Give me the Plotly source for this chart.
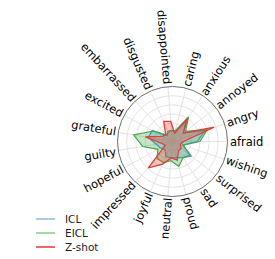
import math
import plotly.graph_objects as go

categories = ["afraid", "angry", "annoyed", "anxious", "caring", "disappointed",
              "disgusted", "embarrassed", "excited", "grateful", "guilty", "hopeful",
              "impressed", "joyful", "neutral", "proud", "sad", "surprised", "wishing"]

icl = [0.27, 0.38, 0.15, 0.27, 0.12, 0.12, 0.12, 0.09, 0.25, 0.27, 0.18, 0.15,
       0.12, 0.18, 0.18, 0.18, 0.21, 0.26, 0.12]
eicl = [0.30, 0.40, 0.18, 0.32, 0.12, 0.12, 0.12, 0.09, 0.24, 0.43, 0.33, 0.18,
        0.25, 0.25, 0.21, 0.28, 0.21, 0.24, 0.12]
zshot = [0.12, 0.48, 0.15, 0.30, 0.09, 0.22, 0.24, 0.11, 0.12, 0.30, 0.12, 0.09,
         0.39, 0.27, 0.18, 0.21, 0.12, 0.12, 0.09]

series_names = ["ICL", "EICL", "Z-shot"]
series_values = [icl, eicl, zshot]
line_colors = ["#4a8fd4", "#43a847", "#e53935"]
fill_colors = ["rgba(74,143,212,0.30)", "rgba(67,168,71,0.30)", "rgba(229,57,53,0.30)"]
legend_colors = ["#92bbe3", "#86cc86", "#e53935"]

W, H = 275, 259
cx, cy, R = 164.5, 133.5, 55
n = len(categories)
rot = 0  # first category points right, counter-clockwise

fig = go.Figure()
for name, vals, col, fcol in zip(series_names, series_values, line_colors, fill_colors):
    fig.add_trace(go.Scatterpolar(
        r=vals + vals[:1], theta=categories + categories[:1],
        mode="lines", fill="toself", fillcolor=fcol,
        line=dict(color=col, width=1.2), showlegend=False, name=name))

# DejaVu Sans advance widths (em) to place rotated labels just outside the circle
cw = dict(a=.613, b=.635, c=.550, d=.635, e=.615, f=.352, g=.635, h=.634, i=.278,
          j=.278, k=.579, l=.278, m=.974, n=.634, o=.612, p=.635, q=.635, r=.411,
          s=.521, t=.392, u=.634, v=.592, w=.818, x=.592, y=.592, z=.525)
fs = 11.5
ann = []
for i, lab in enumerate(categories):
    th = rot + i * 360 / n
    t = math.radians(th)
    L = sum(cw.get(ch, 0.6) for ch in lab) * fs
    rc = R + 2 + L / 2
    px = cx + rc * math.cos(t)
    py = cy - rc * math.sin(t)
    thn = th % 360
    ang = 180 - thn if 90 < thn < 270 else -thn
    ann.append(dict(x=px / W, y=1 - py / H, xref="paper", yref="paper",
                    text=lab, showarrow=False, textangle=ang,
                    xanchor="center", yanchor="middle", borderpad=0,
                    font=dict(size=fs, color="black", family="DejaVu Sans")))

# legend drawn as short line samples with text
shapes = []
leg_y = [211, 225, 239]
for name, col, yy in zip(series_names, legend_colors, leg_y):
    shapes.append(dict(type="line", xref="paper", yref="paper",
                       x0=28 / W, x1=47 / W, y0=1 - yy / H, y1=1 - yy / H,
                       line=dict(color=col, width=1.5)))
    ann.append(dict(x=55 / W, y=1 - yy / H, xref="paper", yref="paper", text=name,
                    showarrow=False, xanchor="left", yanchor="middle",
                    font=dict(size=10.5, color="#222222", family="DejaVu Sans")))

fig.update_layout(
    width=W, height=H, margin=dict(l=0, r=0, t=0, b=0),
    paper_bgcolor="white", plot_bgcolor="white",
    font=dict(family="DejaVu Sans", size=10, color="black"),
    annotations=ann, shapes=shapes, showlegend=False,
    polar=dict(
        domain=dict(x=[(cx - R) / W, (cx + R) / W], y=[1 - (cy + R) / H, 1 - (cy - R) / H]),
        bgcolor="white",
        angularaxis=dict(type="category", categoryorder="array", categoryarray=categories,
                         direction="counterclockwise", rotation=rot,
                         showticklabels=False, ticks="", showline=True,
                         linecolor="#6e6e6e", linewidth=1,
                         showgrid=True, gridcolor="#e3e3e3", gridwidth=1),
        radialaxis=dict(range=[0, 0.6], dtick=0.1, showticklabels=False, ticks="",
                        showline=False, showgrid=True, gridcolor="#e3e3e3", gridwidth=1)),
)
fig.write_html("out.html")
